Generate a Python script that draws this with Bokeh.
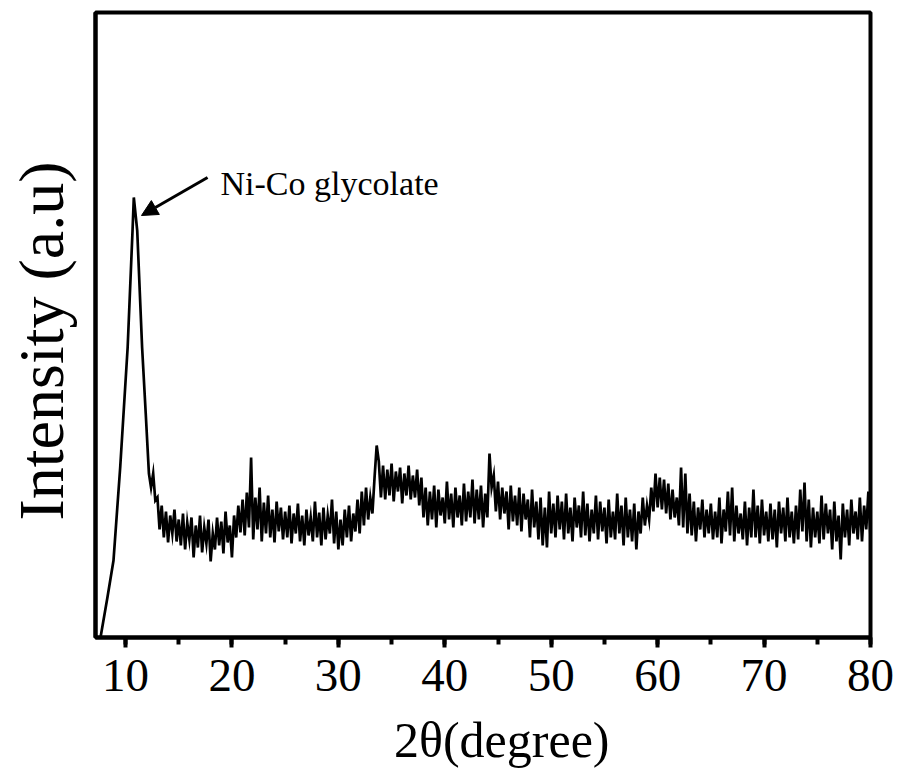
from bokeh.plotting import figure
from bokeh.models import Range1d, SingleIntervalTicker, Arrow, NormalHead, Label
from bokeh.embed import file_html
from bokeh.resources import INLINE

# ---- data (2theta in degrees, intensity in arbitrary units) ----
peak_x = [7.65, 8.3, 8.87, 9.5, 10.2, 10.66, 10.78, 11.1, 11.56, 11.9, 12.2, 12.4, 12.6, 12.8]
peak_y = [0, 40, 77, 170, 290, 407, 440, 407, 290, 224, 164, 150, 164, 137]

noise_start = 13.0
noise_step = 0.2
noise_y = [
    140, 108, 132, 100, 126, 95, 122, 104, 128, 96,
    118, 92, 124, 88, 115, 98, 120, 80, 112, 90,
    122, 85, 110, 94, 118, 76, 104, 88, 120, 92,
    116, 84, 126, 95, 112, 80, 122, 100, 132, 105,
    138, 102, 145, 110, 180, 98, 140, 108, 150, 96,
    135, 104, 142, 100, 128, 95, 136, 106, 130, 98,
    126, 100, 132, 94, 124, 104, 134, 96, 122, 92,
    128, 102, 120, 96, 136, 100, 125, 92, 130, 98,
    122, 104, 138, 94, 126, 88, 118, 92, 128, 100,
    132, 96, 124, 106, 138, 104, 146, 112, 150, 118,
    140, 124, 160, 192, 176, 140, 172, 138, 168, 142,
    174, 136, 166, 146, 170, 134, 164, 142, 172, 138,
    162, 140, 168, 132, 160, 120, 150, 112, 146, 118,
    152, 110, 148, 122, 140, 114, 156, 118, 144, 110,
    150, 120, 142, 112, 154, 116, 146, 120, 158, 114,
    148, 118, 152, 110, 144, 120, 184, 150, 162, 126,
    156, 118, 150, 124, 146, 108, 152, 116, 142, 112,
    150, 106, 144, 118, 138, 100, 148, 110, 136, 98,
    140, 92, 130, 90, 146, 104, 134, 100, 142, 108,
    136, 98, 144, 104, 130, 96, 140, 110, 132, 100,
    146, 102, 134, 96, 128, 104, 142, 98, 136, 106,
    130, 94, 138, 100, 126, 98, 144, 104, 132, 92,
    140, 100, 128, 96, 134, 88, 126, 104, 140, 112,
    132, 118, 150, 126, 164, 130, 160, 128, 158, 124,
    154, 118, 148, 120, 140, 112, 170, 110, 164, 104,
    144, 102, 136, 96, 130, 108, 138, 100, 128, 104,
    134, 98, 126, 100, 140, 94, 128, 106, 146, 102,
    150, 96, 132, 104, 124, 98, 136, 92, 130, 100,
    148, 100, 132, 94, 138, 102, 126, 96, 134, 98,
    128, 90, 136, 104, 130, 96, 140, 100, 126, 94,
    132, 98, 148, 106, 155, 96, 138, 90, 130, 100,
    126, 94, 142, 98, 134, 104, 128, 88, 136, 96,
    122, 78, 134, 100, 128, 92, 138, 104, 126, 98,
    140, 96, 132, 108, 146, 100,
]
noise_x = [round(noise_start + i * noise_step, 2) for i in range(len(noise_y))]

xs = peak_x + noise_x
ys = peak_y + noise_y

x_min, x_max = 7.18, 80.0
y_min, y_max = 0, 625

annot_text = "Ni-Co glycolate"
annot_x, annot_y = 18.93, 454
arrow_from = (17.71, 460)
arrow_to = (11.5, 422)

FONT = "Liberation Serif"
NBSP = "\u00a0"

p = figure(width=900, height=772, output_backend="svg", toolbar_location=None,
           x_range=Range1d(x_min, x_max), y_range=Range1d(y_min, y_max),
           frame_width=775, frame_height=625,
           min_border_left=95, min_border_right=30, min_border_top=12, min_border_bottom=135,
           background_fill_color="white", border_fill_color="white")

p.line(xs, ys, line_color="black", line_width=2.7, line_join="miter")

p.xgrid.visible = False
p.ygrid.visible = False
p.outline_line_color = "black"
p.outline_line_width = 4
p.outline_line_alpha = 1

# x axis
p.xaxis.ticker = SingleIntervalTicker(interval=10, num_minor_ticks=2)
p.xaxis.axis_line_width = 4
p.xaxis.major_tick_in = 0
p.xaxis.major_tick_out = 10
p.xaxis.major_tick_line_width = 4
p.xaxis.minor_tick_in = 0
p.xaxis.minor_tick_out = 7
p.xaxis.minor_tick_line_width = 4
p.xaxis.major_label_text_font = FONT
p.xaxis.major_label_text_font_size = "47px"
p.xaxis.major_label_text_color = "black"
p.xaxis.major_label_standoff = 12
p.xaxis.axis_label = NBSP * 3 + "2θ(degree)"
p.xaxis.axis_label_text_font = FONT
p.xaxis.axis_label_text_font_size = "50px"
p.xaxis.axis_label_text_font_style = "normal"
p.xaxis.axis_label_text_color = "black"
p.xaxis.axis_label_standoff = 18

# y axis
p.yaxis.ticker = []
p.yaxis.axis_line_width = 4
p.yaxis.major_tick_line_color = None
p.yaxis.minor_tick_line_color = None
p.yaxis.major_label_text_font_size = "0px"
p.yaxis.axis_label = "Intensity (a.u)" + NBSP * 2
p.yaxis.axis_label_text_font = FONT
p.yaxis.axis_label_text_font_size = "64px"
p.yaxis.axis_label_text_font_style = "normal"
p.yaxis.axis_label_text_color = "black"
p.yaxis.axis_label_standoff = 19

p.add_layout(Label(x=annot_x, y=annot_y, text=annot_text, text_font=FONT,
                   text_font_size="34px", text_color="black", text_baseline="alphabetic"))
p.add_layout(Arrow(end=NormalHead(size=16, fill_color="black", line_color="black"),
                   x_start=arrow_from[0], y_start=arrow_from[1],
                   x_end=arrow_to[0], y_end=arrow_to[1],
                   line_width=3, line_color="black"))

open("out.html", "w").write(file_html(p, INLINE))
